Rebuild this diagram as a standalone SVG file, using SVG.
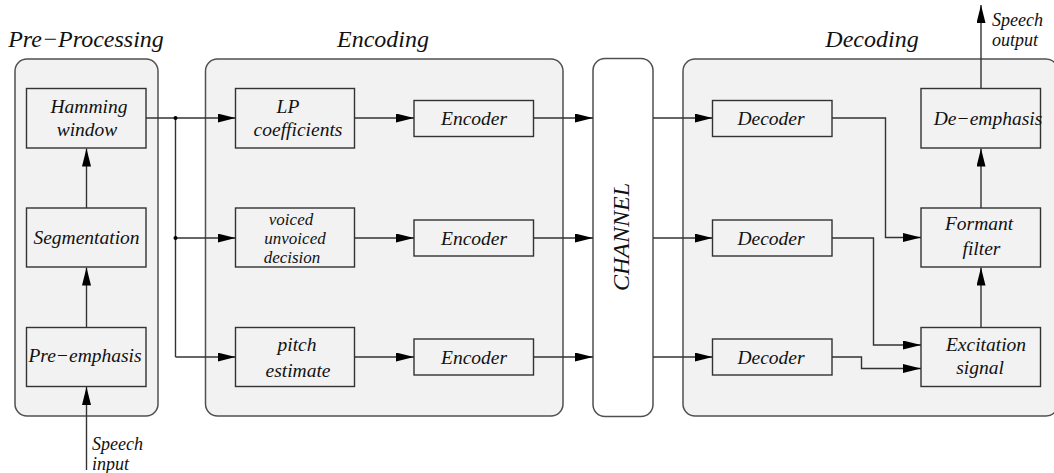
<svg xmlns="http://www.w3.org/2000/svg" width="1054" height="473" viewBox="0 0 1054 473">
  <style>
    .stage { fill: #f2f2f2; stroke: #505050; stroke-width: 1.5; }
    .chan { fill: #ffffff; stroke: #505050; stroke-width: 1.5; }
    .box { fill: #f2f2f2; stroke: #333333; stroke-width: 1.4; }
    .wire { fill: none; stroke: #333333; stroke-width: 1.4; }
    .lbl { font-family: "Liberation Serif", "DejaVu Serif", serif; font-style: italic; font-size: 19.5px; fill: #111111; text-anchor: middle; }
    .lbl3 { font-size: 17px; }
    .title { font-family: "Liberation Serif", "DejaVu Serif", serif; font-style: italic; font-size: 24px; fill: #111111; text-anchor: middle; }
    .io { font-family: "Liberation Serif", "DejaVu Serif", serif; font-style: italic; font-size: 18px; fill: #111111; }
  </style>
  <defs>
    <marker id="arrow" markerUnits="userSpaceOnUse" markerWidth="18" markerHeight="10" refX="18" refY="4.5" orient="auto">
      <path d="M0,0 L18,4.5 L0,9 z" fill="#000000"/>
    </marker>
  </defs>

  <!-- stage containers -->
  <g id="stages">
    <rect class="stage" x="15" y="59" width="143" height="357" rx="12" ry="12"/>
    <rect class="stage" x="205.5" y="59" width="357.5" height="357" rx="12" ry="12"/>
    <rect class="stage" x="683" y="59" width="375" height="357" rx="12" ry="12"/>
    <text class="title" x="86" y="47">Pre−Processing</text>
    <text class="title" x="383" y="47">Encoding</text>
    <text class="title" x="872" y="47">Decoding</text>
  </g>

  <g id="channel">
    <rect class="chan" x="593" y="58.5" width="60" height="358" rx="12" ry="12"/>
    <text class="title" transform="translate(629,237) rotate(-90)" x="0" y="0">CHANNEL</text>
  </g>

  <!-- pre-processing -->
  <g id="hamming">
    <rect class="box" x="26.5" y="88.5" width="119.5" height="59.5"/>
    <text class="lbl" x="89" y="113">Hamming</text>
    <text class="lbl" x="87" y="136">window</text>
  </g>
  <g id="segmentation">
    <rect class="box" x="26.5" y="208" width="119.5" height="59"/>
    <text class="lbl" x="86.5" y="244">Segmentation</text>
  </g>
  <g id="pre-emphasis">
    <rect class="box" x="26.5" y="327.5" width="119.5" height="59"/>
    <text class="lbl" x="85" y="362">Pre−emphasis</text>
  </g>

  <!-- encoding -->
  <g id="lp-coefficients">
    <rect class="box" x="235.5" y="88.5" width="119" height="59.5"/>
    <text class="lbl" x="288" y="113">LP</text>
    <text class="lbl" x="298" y="136">coefficients</text>
  </g>
  <g id="voicing">
    <rect class="box" x="235.5" y="208" width="119" height="59"/>
    <text class="lbl lbl3" x="291" y="224.5">voiced</text>
    <text class="lbl lbl3" x="295" y="243.5">unvoiced</text>
    <text class="lbl lbl3" x="292" y="262.5">decision</text>
  </g>
  <g id="pitch">
    <rect class="box" x="235.5" y="327.5" width="119" height="59"/>
    <text class="lbl" x="297" y="350.5">pitch</text>
    <text class="lbl" x="298" y="376.5">estimate</text>
  </g>
  <g id="encoder-1">
    <rect class="box" x="414" y="100.5" width="119.5" height="36"/>
    <text class="lbl" x="474" y="125">Encoder</text>
  </g>
  <g id="encoder-2">
    <rect class="box" x="414" y="220" width="119.5" height="36"/>
    <text class="lbl" x="474" y="244.5">Encoder</text>
  </g>
  <g id="encoder-3">
    <rect class="box" x="414" y="339" width="119.5" height="36"/>
    <text class="lbl" x="474" y="364">Encoder</text>
  </g>

  <!-- decoding -->
  <g id="decoder-1">
    <rect class="box" x="712.5" y="100.5" width="119.5" height="36"/>
    <text class="lbl" x="771" y="125">Decoder</text>
  </g>
  <g id="decoder-2">
    <rect class="box" x="712.5" y="220" width="119.5" height="36"/>
    <text class="lbl" x="771" y="244.5">Decoder</text>
  </g>
  <g id="decoder-3">
    <rect class="box" x="712.5" y="339" width="119.5" height="36"/>
    <text class="lbl" x="771" y="364">Decoder</text>
  </g>
  <g id="de-emphasis">
    <rect class="box" x="921" y="88.5" width="119.5" height="59.5"/>
    <text class="lbl" x="988" y="125">De−emphasis</text>
  </g>
  <g id="formant-filter">
    <rect class="box" x="921" y="208" width="119.5" height="59"/>
    <text class="lbl" x="979" y="230">Formant</text>
    <text class="lbl" x="981.5" y="255">filter</text>
  </g>
  <g id="excitation">
    <rect class="box" x="921" y="327.5" width="119.5" height="59"/>
    <text class="lbl" x="986" y="350.5">Excitation</text>
    <text class="lbl" x="980" y="373.5">signal</text>
  </g>

  <!-- signal flow -->
  <g id="connectors">
    <!-- speech in, pre-processing chain -->
    <line class="wire" x1="86.5" y1="470" x2="86.5" y2="387" marker-end="url(#arrow)"/>
    <line class="wire" x1="86.5" y1="327.5" x2="86.5" y2="267.5" marker-end="url(#arrow)"/>
    <line class="wire" x1="86.5" y1="208" x2="86.5" y2="148.5" marker-end="url(#arrow)"/>

    <!-- fan-out from the window -->
    <line class="wire" x1="146" y1="118" x2="235.5" y2="118" marker-end="url(#arrow)"/>
    <line class="wire" x1="175.5" y1="118" x2="175.5" y2="357"/>
    <line class="wire" x1="175.5" y1="238" x2="235.5" y2="238" marker-end="url(#arrow)"/>
    <line class="wire" x1="175.5" y1="357" x2="235.5" y2="357" marker-end="url(#arrow)"/>
    <circle cx="175.5" cy="118" r="2" fill="#000000"/>
    <circle cx="175.5" cy="238" r="2" fill="#000000"/>

    <!-- analysis to encoders -->
    <line class="wire" x1="354.5" y1="118" x2="414" y2="118" marker-end="url(#arrow)"/>
    <line class="wire" x1="354.5" y1="238" x2="414" y2="238" marker-end="url(#arrow)"/>
    <line class="wire" x1="354.5" y1="357" x2="414" y2="357" marker-end="url(#arrow)"/>

    <!-- encoders to channel -->
    <line class="wire" x1="533.5" y1="118" x2="593" y2="118" marker-end="url(#arrow)"/>
    <line class="wire" x1="533.5" y1="238" x2="593" y2="238" marker-end="url(#arrow)"/>
    <line class="wire" x1="533.5" y1="357" x2="593" y2="357" marker-end="url(#arrow)"/>

    <!-- channel to decoders -->
    <line class="wire" x1="653" y1="118" x2="712.5" y2="118" marker-end="url(#arrow)"/>
    <line class="wire" x1="653" y1="238" x2="712.5" y2="238" marker-end="url(#arrow)"/>
    <line class="wire" x1="653" y1="357" x2="712.5" y2="357" marker-end="url(#arrow)"/>

    <!-- decoders to synthesis -->
    <polyline class="wire" points="832,118 885.5,118 885.5,237.5 921,237.5" marker-end="url(#arrow)"/>
    <polyline class="wire" points="832,238 873.5,238 873.5,345 921,345" marker-end="url(#arrow)"/>
    <polyline class="wire" points="832,357 861.5,357 861.5,368.5 921,368.5" marker-end="url(#arrow)"/>

    <!-- synthesis chain and speech out -->
    <line class="wire" x1="981" y1="327.5" x2="981" y2="267.5" marker-end="url(#arrow)"/>
    <line class="wire" x1="981" y1="208" x2="981" y2="148.5" marker-end="url(#arrow)"/>
    <line class="wire" x1="981" y1="88.5" x2="981" y2="5" marker-end="url(#arrow)"/>
  </g>

  <g id="io-labels">
    <text class="io" x="92" y="450">Speech</text>
    <text class="io" x="92" y="470">input</text>
    <text class="io" x="992" y="26">Speech</text>
    <text class="io" x="992" y="46">output</text>
  </g>
</svg>
